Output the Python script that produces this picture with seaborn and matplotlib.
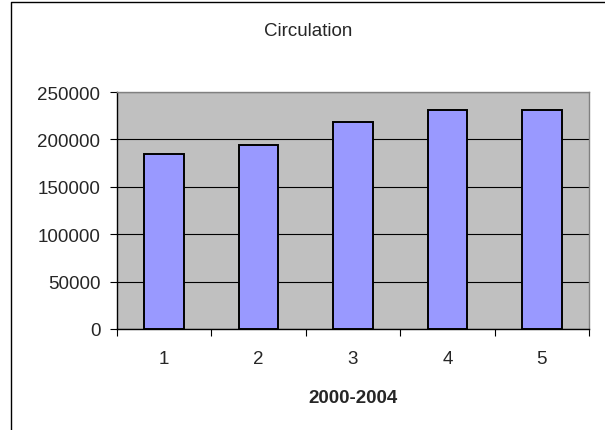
import numpy as np
import pandas as pd
import matplotlib.pyplot as plt
import seaborn as sns
from matplotlib.lines import Line2D

# data
years = ["1", "2", "3", "4", "5"]
circulation = [184700, 194300, 218300, 231000, 231200]

df = pd.DataFrame({"year": years, "circulation": circulation})

sns.set_style("white")
plt.rcParams['font.family'] = ['Liberation Sans', 'DejaVu Sans']

FS = 13.5

fig = plt.figure(figsize=(6.05, 4.31), dpi=100)
ax = fig.add_axes([117 / 605, 1 - 330 / 431, 472 / 605, 237 / 431])
ax.set_facecolor('#C0C0C0')

sns.barplot(data=df, x="year", y="circulation", color='#9999FF',
            width=0.42, edgecolor='black', linewidth=1.4, saturation=1,
            ax=ax, zorder=3)

ax.set_ylim(0, 250000)
ax.set_xlim(-0.5, 4.5)
ax.set_yticks(np.arange(0, 250001, 50000))
ax.yaxis.grid(True, color='black', linewidth=0.8, zorder=0)
ax.set_axisbelow(True)

# ticks between categories, labels centred
ax.set_xticks(np.arange(-0.5, 5.0, 1.0), minor=True)
ax.tick_params(axis='x', which='major', length=0, pad=15, labelsize=FS)
ax.tick_params(axis='x', which='minor', length=5, width=0.8, color='black',
               direction='out', bottom=True)
ax.tick_params(axis='y', length=5, width=0.8, color='black',
               direction='out', left=True, labelsize=FS, pad=7)

for side in ['top', 'right']:
    ax.spines[side].set_color('#808080')
    ax.spines[side].set_linewidth(1)
for side in ['left', 'bottom']:
    ax.spines[side].set_color('black')
    ax.spines[side].set_linewidth(1)

ax.set_ylabel('')
ax.set_xlabel('2000-2004', fontsize=FS, fontweight='bold', labelpad=16)
fig.text(308 / 605, 1 - 31 / 431, 'Circulation', ha='center', va='center',
         fontsize=FS)

# chart frame (left and top edges visible)
fig.add_artist(Line2D([11 / 605, 11 / 605, 1.0], [0.0, 1 - 3 / 431, 1 - 3 / 431],
                      transform=fig.transFigure, color='black', linewidth=1))

fig.savefig('out.png', dpi=100)
